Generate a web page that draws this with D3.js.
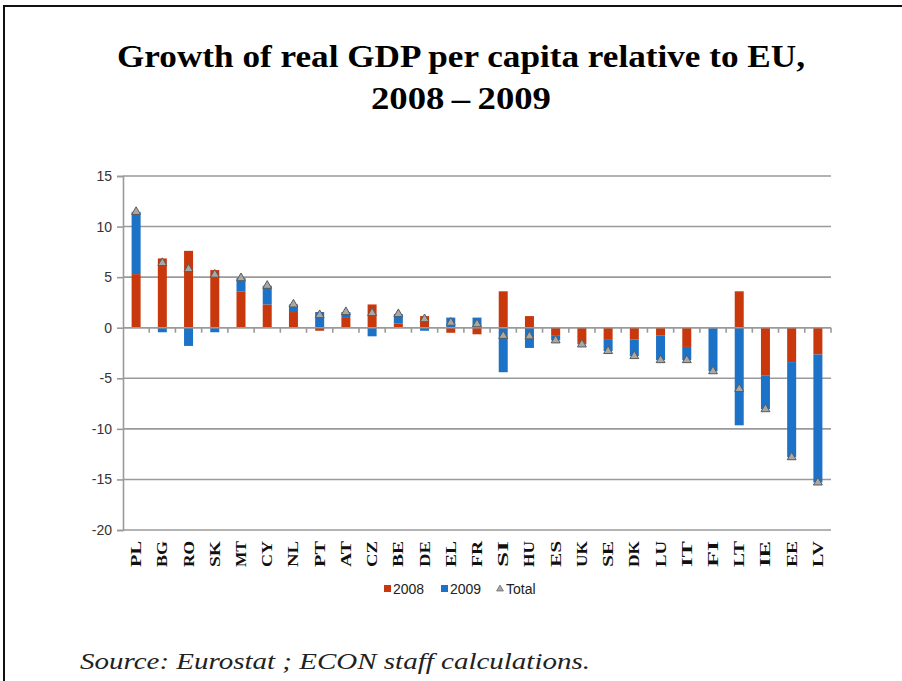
<!DOCTYPE html>
<html>
<head>
<meta charset="utf-8">
<script src="https://cdn.jsdelivr.net/npm/d3@7"></script>
<style>
  body { margin: 0; background: #fff; }
  svg { display: block; }
</style>
</head>
<body>
<div id="chart"></div>
<script>
// data
var countries = ["PL","BG","RO","SK","MT","CY","NL","PT","AT","CZ","BE","DE","EL","FR",
                 "SI","HU","ES","UK","SE","DK","LU","IT","FI","LT","IE","EE","LV"];
var g2008 = [5.3, 6.85, 7.6, 5.7, 3.6, 2.3, 1.55, -0.3, 1.05, 2.3, 0.4, 1.15, -0.5, -0.65,
             3.6, 1.15, -0.8, -1.5, -1.2, -1.15, -0.75, -1.9, -0.05, 3.6, -4.7, -3.4, -2.65];
var g2009 = [6.15, -0.45, -1.8, -0.45, 1.3, 1.85, 0.75, 1.55, 0.5, -0.85, 0.95, -0.3, 1.0, 1.0,
             -4.4, -2.0, -0.45, -0.15, -1.1, -1.65, -2.45, -1.3, -4.25, -9.65, -3.35, -9.4, -12.65];
var yTicks = [15, 10, 5, 0, -5, -10, -15, -20];
var seriesNames = ["2008", "2009", "Total"];
var colors = { "2008": "#c8380c", "2009": "#1b72c6", "Total": "#8a8a8a" };

var W = 902, H = 681;
var svg = d3.select("#chart").append("svg").attr("width", W).attr("height", H);

// frame (top + left edges only visible)
svg.append("line").attr("x1", 4).attr("x2", W).attr("y1", 6).attr("y2", 6)
  .attr("stroke", "#111").attr("stroke-width", 2);
svg.append("line").attr("x1", 4).attr("x2", 4).attr("y1", 5).attr("y2", H)
  .attr("stroke", "#111").attr("stroke-width", 2);

// title
svg.append("text").attr("x", 461).attr("y", 67).attr("text-anchor", "middle")
  .attr("font-family", "Liberation Serif, Times New Roman, serif").attr("font-weight", "bold")
  .attr("font-size", 31).attr("textLength", 688).attr("lengthAdjust", "spacingAndGlyphs")
  .text("Growth of real GDP per capita relative to EU,");
svg.append("text").attr("x", 461).attr("y", 109).attr("text-anchor", "middle")
  .attr("font-family", "Liberation Serif, Times New Roman, serif").attr("font-weight", "bold")
  .attr("font-size", 31).attr("textLength", 180).attr("lengthAdjust", "spacingAndGlyphs")
  .text("2008\u2009\u2013\u20092009");

// scales
var x = d3.scaleBand().domain(countries).range([123, 831]);
var y = d3.scaleLinear().domain([-20, 15]).range([530, 176]);

// gridlines
svg.append("g").selectAll("line").data(yTicks).enter().append("line")
  .attr("x1", 123).attr("x2", 831)
  .attr("y1", d => y(d)).attr("y2", d => y(d))
  .attr("stroke", "#9a9a9a").attr("stroke-width", 1.6);

// y axis
var yAxis = svg.append("g").attr("transform", "translate(123,0)")
  .call(d3.axisLeft(y).tickValues(yTicks).tickFormat(d => String(d)).tickSize(6).tickPadding(5));
yAxis.select(".domain").attr("stroke", "#9a9a9a").attr("stroke-width", 1.6);
yAxis.selectAll(".tick line").attr("stroke", "#9a9a9a").attr("stroke-width", 1.6);
yAxis.selectAll(".tick text").attr("font-family", "Liberation Sans, Arial, sans-serif")
  .attr("font-size", 14).attr("fill", "#333");

// stacked bars (positive and negative stacked separately)
var rows = countries.map(function (c, i) {
  var a = g2008[i], b = g2009[i];
  var pos = 0, neg = 0, segs = [];
  [["2008", a], ["2009", b]].forEach(function (s) {
    var v = s[1];
    if (v >= 0) { segs.push({ key: s[0], y0: pos, y1: pos + v }); pos += v; }
    else { segs.push({ key: s[0], y0: neg, y1: neg + v }); neg += v; }
  });
  return { c: c, segs: segs, total: a + b };
});

var bw = 9;
var groups = svg.append("g").selectAll("g").data(rows).enter().append("g")
  .attr("transform", d => "translate(" + (x(d.c) + x.bandwidth() / 2 - bw / 2) + ",0)");
groups.selectAll("rect").data(d => d.segs).enter().append("rect")
  .attr("x", 0).attr("width", bw)
  .attr("y", d => y(Math.max(d.y0, d.y1)))
  .attr("height", d => Math.abs(y(d.y0) - y(d.y1)))
  .attr("fill", d => colors[d.key]);

// zero axis line with category ticks
svg.append("line").attr("x1", 123).attr("x2", 831).attr("y1", y(0)).attr("y2", y(0))
  .attr("stroke", "#9a9a9a").attr("stroke-width", 1.6);
svg.append("g").selectAll("line").data(countries.slice(1).concat(["_end"])).enter().append("line")
  .attr("x1", (d, i) => 123 + x.step() * (i + 1)).attr("x2", (d, i) => 123 + x.step() * (i + 1))
  .attr("y1", y(0)).attr("y2", y(0) + 5)
  .attr("stroke", "#9a9a9a").attr("stroke-width", 1.6);

// total markers
var tri = d3.symbol().type(d3.symbolTriangle).size(34);
svg.append("g").selectAll("path").data(rows).enter().append("path")
  .attr("d", tri)
  .attr("transform", d => "translate(" + (x(d.c) + x.bandwidth() / 2) + "," + y(d.total) + ")")
  .attr("fill", "#a8a8a8").attr("stroke", "#5a5a5a").attr("stroke-width", 1);

// category labels (rotated)
svg.append("g").selectAll("text").data(countries).enter().append("text")
  .attr("transform", d => "translate(" + (x(d) + x.bandwidth() / 2 + 5) + ",541) rotate(-90)")
  .attr("text-anchor", "end")
  .attr("font-family", "Liberation Serif, Times New Roman, serif").attr("font-weight", "bold")
  .attr("font-size", 14).attr("textLength", 26).attr("lengthAdjust", "spacingAndGlyphs")
  .attr("fill", "#111")
  .text(d => d);

// legend
var lg = svg.append("g").attr("font-family", "Liberation Sans, Arial, sans-serif")
  .attr("font-size", 14).attr("fill", "#222");
var legendX = [384, 441, 497];
seriesNames.forEach(function (s, i) {
  if (s === "Total") {
    lg.append("path").attr("d", d3.symbol().type(d3.symbolTriangle).size(20))
      .attr("transform", "translate(" + (legendX[i] + 3) + ",589)")
      .attr("fill", "#a8a8a8").attr("stroke", "#6a6a6a").attr("stroke-width", 0.8);
  } else {
    lg.append("rect").attr("x", legendX[i]).attr("y", 585).attr("width", 7).attr("height", 7)
      .attr("fill", colors[s]);
  }
  lg.append("text").attr("x", legendX[i] + 9).attr("y", 594).text(s);
});

// source
svg.append("text").attr("x", 80).attr("y", 669)
  .attr("font-family", "Liberation Serif, Times New Roman, serif").attr("font-style", "italic")
  .attr("font-size", 24).attr("textLength", 510).attr("lengthAdjust", "spacingAndGlyphs")
  .attr("fill", "#222")
  .text("Source: Eurostat ; ECON staff calculations.");
</script>
</body>
</html>
